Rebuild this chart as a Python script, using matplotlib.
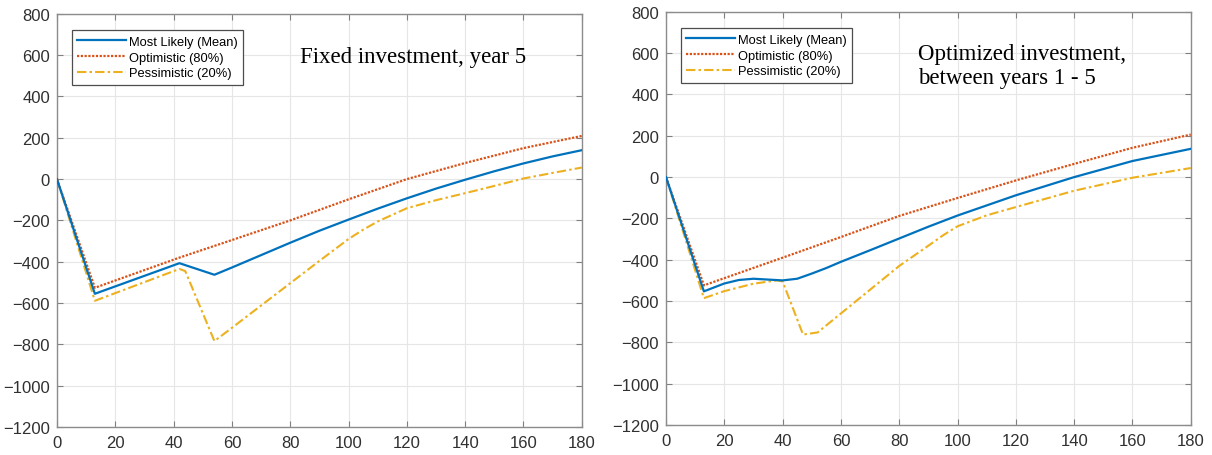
import matplotlib
matplotlib.use("Agg")
import matplotlib.pyplot as plt

# ---- left panel: fixed investment at year 5 ----
fixed_mean_x = [0, 13, 42, 54, 60, 70, 80, 90, 100, 110, 120, 130, 140, 150, 160, 170, 180]
fixed_mean_y = [0, -555, -407, -463, -428, -368, -308, -250, -196, -143, -93, -46, -3, 38, 76, 110, 140]

fixed_opt_x = [0, 13, 42, 60, 80, 100, 120, 140, 160, 180]
fixed_opt_y = [0, -526, -380, -295, -200, -98, 0, 78, 150, 209]

fixed_pess_x = [0, 13, 42, 44, 54, 60, 70, 80, 90, 100, 105, 110, 120, 130, 140, 150, 160, 170, 180]
fixed_pess_y = [0, -589, -435, -445, -784, -720, -612, -504, -396, -290, -245, -205, -141, -102, -68, -33, 3, 30, 56]

# ---- right panel: optimized investment between years 1 and 5 ----
opt_mean_x = [0, 13, 20, 25, 30, 35, 40, 45, 50, 55, 60, 70, 80, 90, 100, 120, 140, 160, 180]
opt_mean_y = [0, -553, -515, -498, -492, -496, -500, -492, -467, -440, -410, -354, -297, -240, -186, -88, 0, 78, 137]

opt_opt_x = [0, 13, 40, 60, 80, 100, 120, 140, 160, 180]
opt_opt_y = [0, -524, -390, -290, -188, -101, -16, 64, 142, 206]

opt_pess_x = [0, 13, 20, 30, 38, 40, 47, 52, 60, 70, 80, 90, 95, 100, 110, 120, 140, 160, 180]
opt_pess_y = [0, -586, -552, -516, -500, -505, -762, -752, -660, -545, -430, -332, -282, -238, -185, -145, -66, -3, 44]

labels = ["Most Likely (Mean)", "Optimistic (80%)", "Pessimistic (20%)"]
x_ticks = list(range(0, 181, 20))
y_ticks = list(range(-1200, 801, 200))

BLUE = "#0072BD"
ORANGE = "#D95319"
YELLOW = "#EDB120"

plt.rcParams["font.family"] = ["Liberation Sans", "DejaVu Sans"]

fig = plt.figure(figsize=(12.12, 4.56), dpi=100)
ax_left = fig.add_axes([0.047, 0.0614, 0.433, 0.906])
ax_right = fig.add_axes([0.5495, 0.0658, 0.433, 0.906])

panels = [
    (ax_left, fixed_mean_x, fixed_mean_y, fixed_opt_x, fixed_opt_y, fixed_pess_x, fixed_pess_y,
     "Fixed investment, year 5", (0.463, 0.922)),
    (ax_right, opt_mean_x, opt_mean_y, opt_opt_x, opt_opt_y, opt_pess_x, opt_pess_y,
     "Optimized investment,\nbetween years 1 - 5", (0.48, 0.925)),
]

for ax, mx, my, ox, oy, px, py, note, pos in panels:
    ax.plot(mx, my, color=BLUE, lw=1.6, label=labels[0], zorder=4)
    ax.plot(ox, oy, color=ORANGE, lw=1.6, ls=(0, (1, 0.7)), label=labels[1], zorder=3)
    ax.plot(px, py, color=YELLOW, lw=1.5, ls=(0, (4.5, 1.5, 1.2, 1.5)), label=labels[2], zorder=2)

    ax.set_xlim(0, 180)
    ax.set_ylim(-1200, 800)
    ax.set_xticks(x_ticks)
    ax.set_yticks(y_ticks)
    ax.grid(True, color="#e6e6e6", lw=0.8)
    ax.set_axisbelow(True)
    ax.tick_params(direction="in", length=4, width=0.8, colors="#808080",
                   labelcolor="#303030", labelsize=12, pad=5, top=True, right=True)
    ax.tick_params(axis="x", pad=6)
    for spine in ax.spines.values():
        spine.set_color("#8c8c8c")
        spine.set_linewidth(1.0)

    leg = ax.legend(loc="upper left", bbox_to_anchor=(0.028, 0.96), fontsize=9.3,
                    handlelength=3.8, handletextpad=0.25, borderpad=0.4,
                    labelspacing=0.3, borderaxespad=0, fancybox=False, framealpha=1)
    leg.get_frame().set_edgecolor("#4d4d4d")
    leg.get_frame().set_linewidth(0.9)

    ax.text(pos[0], pos[1], note, transform=ax.transAxes, ha="left", va="top",
            fontsize=16.5, family=["Liberation Serif", "DejaVu Serif"], linespacing=1.22)

fig.savefig("out.png", dpi=100)
